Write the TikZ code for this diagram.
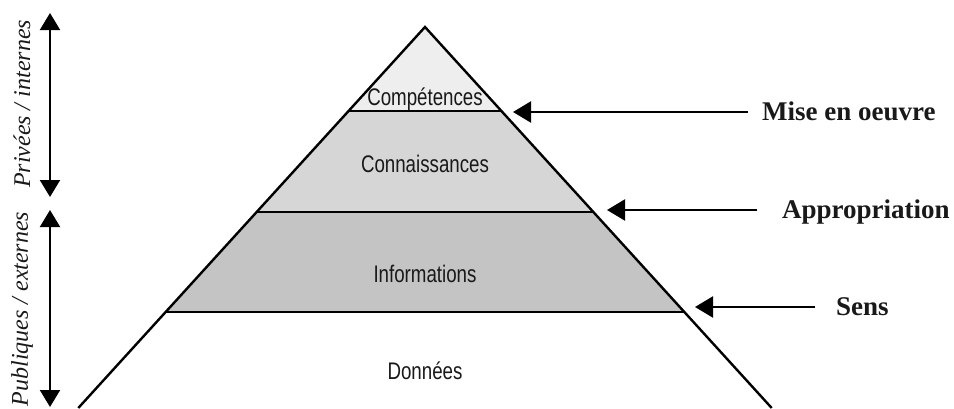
\documentclass[tikz,border=0pt]{standalone}
\usepackage{fontspec}
\setmainfont{Liberation Serif}
\newfontfamily\layerfont{Liberation Sans}
\usetikzlibrary{arrows.meta}

\definecolor{toplayer}{HTML}{EEEEEE}
\definecolor{midlayer}{HTML}{D6D6D6}
\definecolor{lowlayer}{HTML}{C4C4C4}

\tikzset{
  edge/.style={line width=2.4pt, line join=miter},
  pointer/.style={line width=2.2pt, -{Triangle[length=18pt, width=21pt]}},
  twoway/.style={line width=2pt, {Triangle[length=17pt, width=20pt]}-{Triangle[length=17pt, width=20pt]}},
  layerlabel/.style={font=\layerfont\fontsize{24}{28}\selectfont, xscale=0.78, anchor=base, inner sep=0pt, text=black!90},
  stagelabel/.style={font=\bfseries\fontsize{27}{30}\selectfont, anchor=base west, inner sep=0pt, text=black!90},
  sidelabel/.style={font=\itshape\fontsize{24}{28}\selectfont, rotate=90, inner sep=0pt, text=black!90}
}

\begin{document}
\begin{tikzpicture}[x=1pt, y=-1pt]
  \useasboundingbox (0,0) rectangle (954,408);

  % pyramid corners: apex, then left/right points at each layer boundary
  \coordinate (apex) at (425,27);
  \coordinate (l1) at (348.6,111);  \coordinate (r1) at (501.4,111);
  \coordinate (l2) at (256.7,212);  \coordinate (r2) at (593.3,212);
  \coordinate (l3) at (165.7,312);  \coordinate (r3) at (684.3,312);
  \coordinate (l4) at (78.3,408);   \coordinate (r4) at (771.7,408);

  % shaded layers
  \fill[toplayer] (apex) -- (l1) -- (r1) -- cycle;
  \fill[midlayer] (l1) -- (l2) -- (r2) -- (r1) -- cycle;
  \fill[lowlayer] (l2) -- (l3) -- (r3) -- (r2) -- cycle;

  % outline and layer boundaries
  \draw[edge] (l4) -- (apex) -- (r4);
  \draw[edge] (l1) -- (r1);
  \draw[edge] (l2) -- (r2);
  \draw[edge] (l3) -- (r3);

  % layer names
  \node[layerlabel] (comp) at (425,105) {Compétences};
  \node[layerlabel] (conn) at (425,172) {Connaissances};
  \node[layerlabel] (info) at (425,282) {Informations};
  \node[layerlabel] (donn) at (425,379) {Données};

  % transitions on the right
  \node[stagelabel] (mise) at (762,120) {Mise en oeuvre};
  \node[stagelabel] (appr) at (782,218) {Appropriation};
  \node[stagelabel] (sens) at (836,315) {Sens};

  \coordinate (miseTail) at (748,112);  \coordinate (miseTip) at (513,112);
  \coordinate (apprTail) at (757,210);  \coordinate (apprTip) at (607,210);
  \coordinate (sensTail) at (815,307);  \coordinate (sensTip) at (695,307);
  \draw[pointer] (miseTail) -- (miseTip);
  \draw[pointer] (apprTail) -- (apprTip);
  \draw[pointer] (sensTail) -- (sensTip);

  % private / public ranges on the left
  \coordinate (privTop) at (50,13);   \coordinate (privBot) at (50,197);
  \coordinate (pubTop) at (50,210);   \coordinate (pubBot) at (50,407);
  \draw[twoway] (privTop) -- (privBot);
  \draw[twoway] (pubTop) -- (pubBot);

  \node[sidelabel] (priv) at (22,104) {Privées / internes};
  \node[sidelabel] (pub) at (22,309) {Publiques / externes};
\end{tikzpicture}
\end{document}
